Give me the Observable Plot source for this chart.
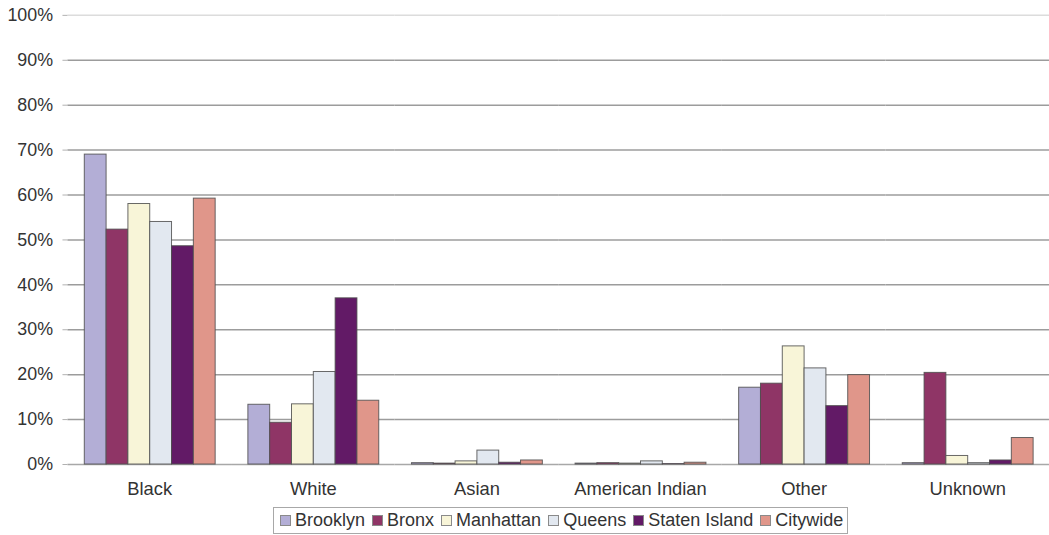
<!DOCTYPE html>
<html>
<head>
<meta charset="utf-8">
<script src="https://cdn.jsdelivr.net/npm/d3@7"></script>
<script src="https://cdn.jsdelivr.net/npm/@observablehq/plot@0.6"></script>
<style>
  html, body { margin: 0; padding: 0; background: #fff; overflow: hidden; }
  #wrap { position: relative; width: 1049px; height: 535px; overflow: hidden;
          font-family: "Liberation Sans", Arial, sans-serif; }
  #chart svg { display: block; }
  .legend { position: absolute; left: 273px; top: 507px; height: 25px;
            border: 1px solid #a8a8a8; display: flex; align-items: center;
            padding: 0 4px 0 6px; font-size: 18px; color: #333; white-space: nowrap; }
  .legend .item { display: flex; align-items: center; margin-right: 7px; }
  .legend .item:last-child { margin-right: 0; }
  .legend .sw { display: inline-block; width: 9px; height: 9px;
                border: 1px solid #8a8a8a; margin-right: 4px; }
</style>
</head>
<body>
<div id="wrap">
  <div id="chart"></div>
  <div class="legend" id="legend"></div>
</div>
<script>
// Race / ethnicity groups along the horizontal axis
const categories = ["Black", "White", "Asian", "American Indian", "Other", "Unknown"];
// One series per borough plus the citywide total
const boroughs = ["Brooklyn", "Bronx", "Manhattan", "Queens", "Staten Island", "Citywide"];

// Percent of each borough's total, in category order
const brooklyn     = [69.0, 13.3, 0.3, 0.2, 17.1, 0.3];
const bronx        = [52.3,  9.3, 0.2, 0.3, 18.0, 20.4];
const manhattan    = [58.0, 13.4, 0.7, 0.2, 26.3, 1.9];
const queens       = [54.0, 20.6, 3.1, 0.7, 21.4, 0.3];
const statenIsland = [48.6, 37.0, 0.4, 0.1, 13.0, 0.9];
const citywide     = [59.2, 14.2, 0.9, 0.4, 19.9, 5.9];

const yTicks = [0, 10, 20, 30, 40, 50, 60, 70, 80, 90, 100];
const colors = ["#b3aed6", "#8f3566", "#f8f5d8", "#e2e8f0", "#621a66", "#e0968a"];

const series = [brooklyn, bronx, manhattan, queens, statenIsland, citywide];
const rows = categories.flatMap((category, i) =>
  boroughs.map((borough, j) => ({ category, borough, value: series[j][i] }))
);

const chart = Plot.plot({
  width: 1058,
  height: 504,
  marginLeft: 68,
  marginRight: 0,
  marginTop: 15,
  marginBottom: 36,
  style: { fontFamily: "Liberation Sans, Arial, sans-serif", fontSize: "18px", color: "#333", background: "#fff" },
  fx: { domain: categories, padding: 0, label: null },
  x: { domain: boroughs, paddingInner: 0, paddingOuter: 0.72, axis: null },
  y: { domain: [0, 100], label: null },
  color: { domain: boroughs, range: colors },
  marks: [
    // horizontal gridlines
    Plot.ruleY(yTicks.filter(t => t > 0 && t < 100), { stroke: "#9c9c9c", strokeWidth: 1.5 }),
    Plot.ruleY([100], { stroke: "#dcdcdc", strokeWidth: 1.5 }),
    Plot.ruleY([0], { stroke: "#a8a8a8", strokeWidth: 1.5 }),
    // vertical axis line along the first group's left edge
    Plot.ruleX([categories[0]], { fx: d => d, frameAnchor: "left", y1: 0, y2: 100, insetTop: 4, stroke: "#c4c4c4", strokeWidth: 1.5 }),
    // short ticks on the group boundaries
    Plot.ruleX(categories, { fx: d => d, frameAnchor: "left", y1: 0, y2: 0, insetTop: 5, stroke: "#a8a8a8", strokeWidth: 1.5 }),
    Plot.axisY({ ticks: yTicks, tickFormat: d => d + "%", tickSize: 5, tickPadding: 10, stroke: "#b0b0b0", fontSize: 18 }),
    Plot.barY(rows, {
      fx: "category", x: "borough", y: "value", fill: "borough",
      stroke: "#4e4e4e", strokeWidth: 1, strokeOpacity: 0.85
    }),
    Plot.axisFx({ anchor: "bottom", tickSize: 0, tickPadding: 18, label: null, fontSize: 18.5 })
  ]
});
document.getElementById("chart").appendChild(chart);

// legend strip below the chart
const legend = d3.select("#legend");
boroughs.forEach((b, i) => {
  const item = legend.append("span").attr("class", "item");
  item.append("span").attr("class", "sw").style("background", colors[i]);
  item.append("span").text(b);
});
</script>
</body>
</html>
